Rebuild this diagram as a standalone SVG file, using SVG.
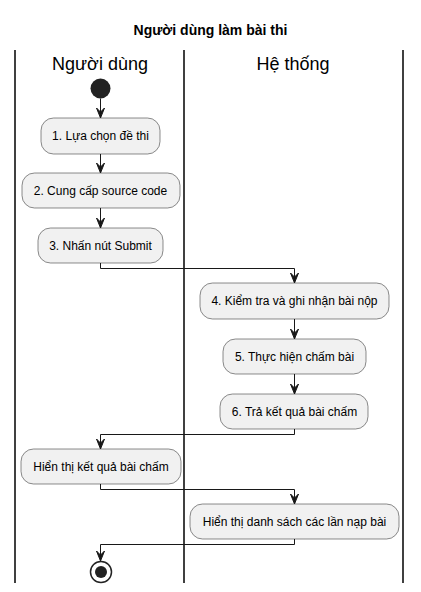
<svg xmlns="http://www.w3.org/2000/svg" width="421" height="592" viewBox="0 0 421 592">
<defs>
<style>
.t{font-family:"Liberation Sans",Arial,sans-serif;font-size:12px;fill:#000;text-anchor:middle}
.lane{stroke:#000;stroke-width:1.5;fill:none}
.hdr{font-family:"Liberation Sans",Arial,sans-serif;font-size:18px;fill:#000;text-anchor:middle}
.box{fill:#F1F1F1;stroke:#181818;stroke-width:0.5}
.ln{stroke:#181818;stroke-width:1;fill:none}
.ah{fill:#181818;stroke:#181818;stroke-width:1}
</style>
</defs>
<rect width="421" height="592" fill="#fff"/>
<text x="210.5" y="35" font-family="'Liberation Sans',Arial,sans-serif" font-size="14" font-weight="bold" text-anchor="middle">Người dùng làm bài thi</text>
<g id="lanes">
<line class="lane" x1="15" y1="50" x2="15" y2="583"/>
<line class="lane" x1="184" y1="50" x2="184" y2="583"/>
<line class="lane" x1="403" y1="50" x2="403" y2="583"/>
<text class="hdr" x="100" y="70">Người dùng</text>
<text class="hdr" x="293" y="70">Hệ thống</text>
</g>
<g id="start"><circle cx="100.5" cy="88.5" r="10" fill="#222"/></g>
<g id="n1"><rect class="box" x="41" y="118" width="119" height="36" rx="12.5"/><text class="t" x="100.5" y="140">1. Lựa chọn đề thi</text></g>
<g id="n2"><rect class="box" x="22" y="173" width="158" height="35" rx="12.5"/><text class="t" x="100.5" y="195">2. Cung cấp source code</text></g>
<g id="n3"><rect class="box" x="38" y="228" width="125" height="35" rx="12.5"/><text class="t" x="100.5" y="250">3. Nhấn nút Submit</text></g>
<g id="n4"><rect class="box" x="200" y="283" width="189" height="36" rx="12.5"/><text class="t" x="294.5" y="305">4. Kiểm tra và ghi nhận bài nộp</text></g>
<g id="n5"><rect class="box" x="223" y="339" width="143" height="35" rx="12.5"/><text class="t" x="294.5" y="361">5. Thực hiện chấm bài</text></g>
<g id="n6"><rect class="box" x="220" y="394" width="148" height="35" rx="12.5"/><text class="t" x="294.5" y="416">6. Trả kết quả bài chấm</text></g>
<g id="n7"><rect class="box" x="21" y="449" width="160" height="35" rx="12.5"/><text class="t" x="101" y="471">Hiển thị kết quả bài chấm</text></g>
<g id="n8"><rect class="box" x="190" y="504" width="209" height="35" rx="12.5"/><text class="t" x="294.5" y="526">Hiển thị danh sách các lần nạp bài</text></g>
<g id="end"><circle cx="101" cy="572" r="10.5" fill="none" stroke="#222" stroke-width="1.5"/><circle cx="101" cy="572" r="6" fill="#222"/></g>
<g id="connectors">
<line class="ln" x1="100.5" y1="98.5" x2="100.5" y2="116"/>
<polygon class="ah" points="96.5,108 100.5,118 104.5,108 100.5,112"/>
<line class="ln" x1="100.5" y1="154" x2="100.5" y2="171"/>
<polygon class="ah" points="96.5,163 100.5,173 104.5,163 100.5,167"/>
<line class="ln" x1="100.5" y1="208" x2="100.5" y2="226"/>
<polygon class="ah" points="96.5,218 100.5,228 104.5,218 100.5,222"/>
<polyline class="ln" points="100.5,263 100.5,268.5 294.5,268.5 294.5,281"/>
<polygon class="ah" points="290.5,273 294.5,283 298.5,273 294.5,277"/>
<line class="ln" x1="294.5" y1="319" x2="294.5" y2="337"/>
<polygon class="ah" points="290.5,329 294.5,339 298.5,329 294.5,333"/>
<line class="ln" x1="294.5" y1="374" x2="294.5" y2="392"/>
<polygon class="ah" points="290.5,384 294.5,394 298.5,384 294.5,388"/>
<polyline class="ln" points="294.5,429 294.5,434.5 100.5,434.5 100.5,447"/>
<polygon class="ah" points="96.5,439 100.5,449 104.5,439 100.5,443"/>
<polyline class="ln" points="100.5,484 100.5,489.5 294.5,489.5 294.5,502"/>
<polygon class="ah" points="290.5,494 294.5,504 298.5,494 294.5,498"/>
<polyline class="ln" points="294.5,539 294.5,544.5 100.5,544.5 100.5,559"/>
<polygon class="ah" points="96.5,551 100.5,561 104.5,551 100.5,555"/>
</g>
</svg>
